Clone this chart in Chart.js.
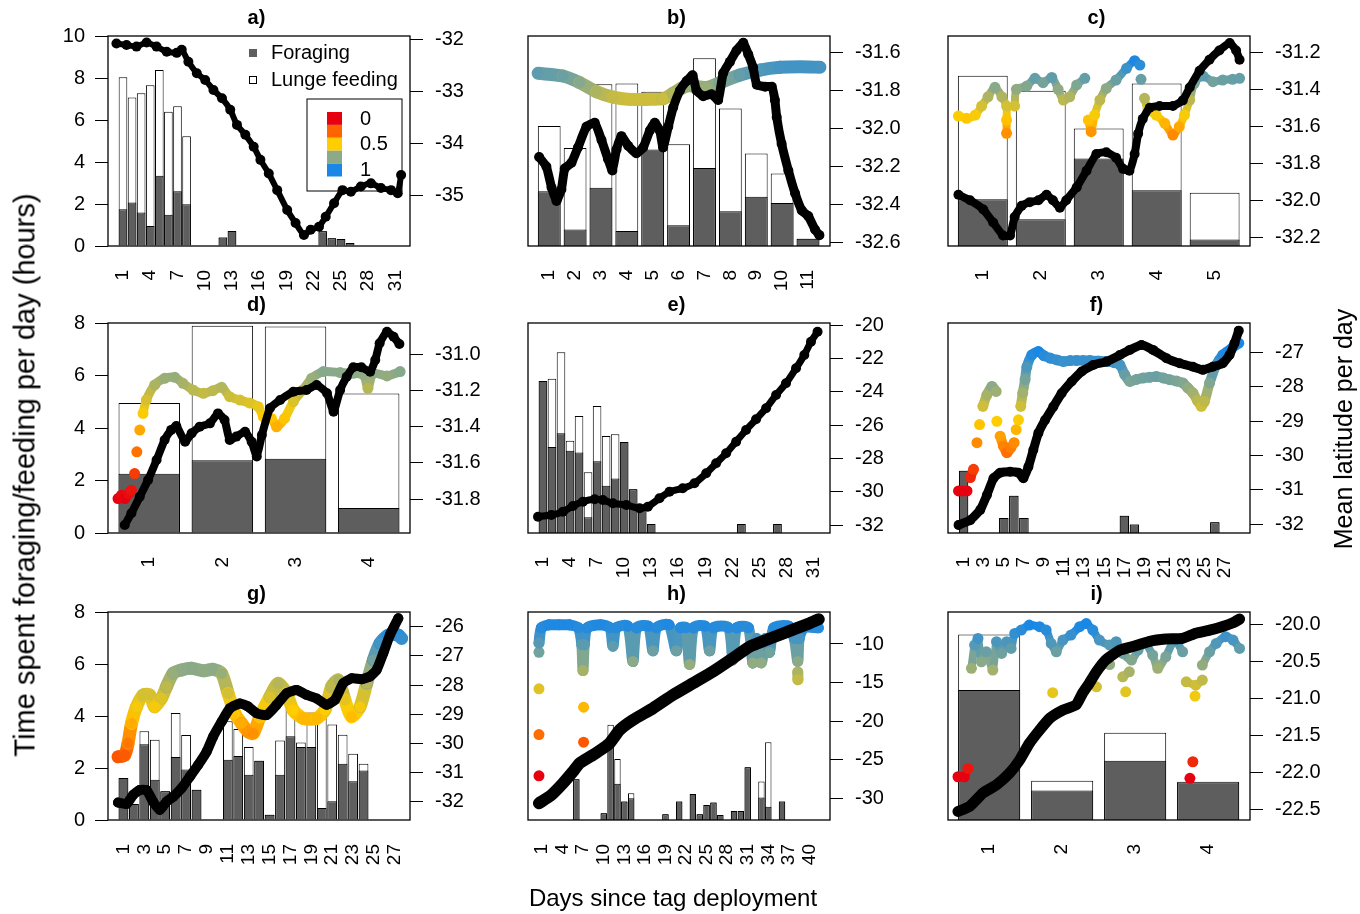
<!DOCTYPE html>
<html>
<head>
<meta charset="utf-8">
<script src="https://cdn.jsdelivr.net/npm/chart.js@4.4.1/dist/chart.umd.min.js"></script>
<style>
  body { margin: 0; background: #fff; }
  #wrap { position: relative; width: 1360px; height: 914px; overflow: hidden; font-family: "Liberation Sans", Arial, sans-serif; }
  #wrap canvas { position: absolute; }
  .axt { position: absolute; font-size: 24px; color: #000; white-space: nowrap; transform: translate(-50%, -50%); }
  .rot { transform: translate(-50%, -50%) rotate(-90deg); }
</style>
</head>
<body>
<div id="wrap">
  <canvas id="pa"></canvas><canvas id="pb"></canvas><canvas id="pc"></canvas>
  <canvas id="pd"></canvas><canvas id="pe"></canvas><canvas id="pf"></canvas>
  <canvas id="pg"></canvas><canvas id="ph"></canvas><canvas id="pi"></canvas>
  <div class="axt rot" style="left:25px; top:475px; font-size:29px">Time spent foraging/feeding per day (hours)</div>
  <div class="axt rot" style="left:1343px; top:429px; font-size:25px">Mean latitude per day</div>
  <div class="axt" style="left:673px; top:898px">Days since tag deployment</div>
</div>
<script>
// ---- hours per day (index = day - 1)
const forageA = [1.75, 2.07, 1.59, 0.95, 3.34, 1.49, 2.61, 1.99, 0, 0, 0, 0.41, 0.72, 0, 0, 0, 0, 0, 0, 0, 0, 0, 0.70, 0.37, 0.33, 0.14, 0, 0, 0, 0, 0];
const lungeA  = [8.03, 7.07, 7.27, 7.65, 8.38, 6.39, 6.66, 5.23, 0, 0, 0, 0.41, 0.72, 0, 0, 0, 0, 0, 0, 0, 0, 0, 0.70, 0.37, 0.33, 0.14, 0, 0, 0, 0, 0];
const forageB = [2.61, 0.78, 2.77, 0.72, 4.60, 0.99, 3.72, 1.65, 2.34, 2.05, 0.35];
const lungeB  = [5.71, 4.67, 7.70, 7.74, 7.34, 4.85, 8.94, 6.55, 4.40, 3.45, 0.35];
const forageC = [2.23, 1.27, 4.17, 2.66, 0.31];
const lungeC  = [8.11, 7.39, 5.60, 7.74, 2.53];
const forageD = [2.26, 2.77, 2.83, 0.95];
const lungeD  = [4.95, 7.90, 7.87, 5.31];
const forageE = [5.79, 3.28, 3.80, 3.13, 3.07, 0.60, 2.73, 1.80, 2.08, 3.47, 1.67, 1.04, 0.34, 0, 0, 0, 0, 0, 0, 0, 0, 0, 0.34, 0, 0, 0, 0.34, 0, 0, 0, 0];
const lungeE  = [5.79, 5.88, 6.89, 3.51, 4.46, 2.31, 4.84, 3.70, 3.76, 3.47, 1.67, 1.04, 0.34, 0, 0, 0, 0, 0, 0, 0, 0, 0, 0.34, 0, 0, 0, 0.34, 0, 0, 0, 0];
const forageF = [2.37, 0, 0, 0, 0.57, 1.42, 0.57, 0, 0, 0, 0, 0, 0, 0, 0, 0, 0.66, 0.32, 0, 0, 0, 0, 0, 0, 0, 0.41, 0, 0];
const lungeF  = [2.37, 0, 0, 0, 0.57, 1.42, 0.57, 0, 0, 0, 0, 0, 0, 0, 0, 0, 0.66, 0.32, 0, 0, 0, 0, 0, 0, 0, 0.41, 0, 0];
const forageG = [1.62, 0.62, 2.91, 1.55, 1.11, 2.42, 1.94, 1.16, 0, 0, 2.32, 2.46, 1.74, 2.28, 0.20, 1.74, 3.22, 2.81, 2.81, 0.46, 0.72, 2.16, 1.49, 1.90, 0, 0, 0];
const lungeG  = [1.62, 0.62, 3.41, 3.09, 1.11, 4.12, 3.27, 1.16, 0, 0, 3.80, 3.50, 2.81, 2.28, 0.20, 3.06, 4.29, 2.98, 4.13, 4.20, 3.67, 3.28, 2.55, 2.16, 0, 0, 0];
const forageH = [0, 0, 0, 0, 0, 1.57, 0, 0, 0, 0.26, 2.95, 1.39, 0.71, 0.84, 0, 0, 0, 0, 0.22, 0, 0.71, 0, 1.00, 0.22, 0.58, 0.67, 0.19, 0, 0.35, 0.35, 2.03, 0, 0.87, 0.51, 0, 0.71, 0, 0, 0, 0, 0];
const lungeH  = [0, 0, 0, 0, 0, 1.57, 0, 0, 0, 0.26, 3.66, 2.35, 0.71, 1.03, 0, 0, 0, 0, 0.22, 0, 0.71, 0, 1.00, 0.22, 0.58, 0.67, 0.19, 0, 0.35, 0.35, 2.03, 0, 1.48, 2.99, 0, 0.71, 0, 0, 0, 0, 0];
const forageI = [5.00, 1.13, 2.28, 1.44];
const lungeI  = [7.13, 1.51, 3.36, 1.47];

// ---- mean latitude track [day, latitude]
const latA = [[0.28,-32.08],[1.39,-32.11],[2.49,-32.14],[3.6,-32.06],[4.7,-32.14],[5.81,-32.24],[6.92,-32.26],[7.47,-32.2],[8.2,-32.43],[9.13,-32.65],[10.05,-32.78],[10.96,-32.97],[11.9,-33.13],[12.81,-33.35],[13.55,-33.64],[14.47,-33.83],[15.39,-34.06],[16.13,-34.31],[17.05,-34.57],[17.98,-34.89],[19.08,-35.27],[20.0,-35.52],[20.92,-35.75],[21.66,-35.65],[22.58,-35.59],[23.32,-35.40],[24.24,-35.14],[25.17,-34.89],[26.09,-34.92],[27.19,-34.82],[28.3,-34.76],[29.4,-34.85],[30.51,-34.89],[31.25,-34.95],[31.62,-34.6]];
const latB = [[0.61,-32.15],[0.89,-32.2],[1.09,-32.31],[1.28,-32.38],[1.47,-32.32],[1.6,-32.21],[1.86,-32.18],[2.11,-32.1],[2.44,-31.99],[2.76,-31.97],[3.02,-32.06],[3.27,-32.16],[3.44,-32.22],[3.6,-32.11],[3.79,-32.04],[4.05,-32.09],[4.37,-32.13],[4.63,-32.1],[4.89,-32.01],[5.08,-31.97],[5.27,-32.01],[5.4,-32.1],[5.6,-31.99],[5.79,-31.89],[6.05,-31.8],[6.31,-31.75],[6.54,-31.72],[6.69,-31.8],[6.95,-31.83],[7.27,-31.82],[7.53,-31.85],[7.72,-31.71],[7.98,-31.65],[8.24,-31.59],[8.5,-31.55],[8.69,-31.61],[8.88,-31.68],[9.02,-31.77],[9.34,-31.78],[9.6,-31.78],[9.72,-31.85],[9.79,-31.94],[9.98,-32.08],[10.24,-32.22],[10.5,-32.34],[10.76,-32.43],[11.01,-32.46],[11.27,-32.53],[11.44,-32.56]];
const latC = [[0.58,-31.97],[0.78,-32.0],[1.01,-32.05],[1.18,-32.12],[1.35,-32.19],[1.47,-32.19],[1.55,-32.09],[1.67,-32.03],[1.81,-32.01],[1.96,-32.0],[2.1,-31.97],[2.21,-32.0],[2.33,-32.04],[2.44,-32.0],[2.62,-31.93],[2.79,-31.84],[2.96,-31.75],[3.13,-31.74],[3.3,-31.77],[3.42,-31.83],[3.53,-31.84],[3.62,-31.75],[3.68,-31.64],[3.76,-31.56],[3.88,-31.5],[4.05,-31.49],[4.28,-31.49],[4.45,-31.46],[4.57,-31.39],[4.74,-31.3],[4.91,-31.24],[5.08,-31.19],[5.26,-31.15],[5.37,-31.19],[5.43,-31.24]];
const latD = [[0.665,-31.942],[0.756,-31.877],[0.87,-31.786],[0.984,-31.694],[1.1,-31.584],[1.21,-31.474],[1.3,-31.418],[1.37,-31.396],[1.49,-31.483],[1.58,-31.437],[1.69,-31.4],[1.83,-31.382],[1.94,-31.327],[2.03,-31.363],[2.1,-31.474],[2.19,-31.455],[2.31,-31.428],[2.4,-31.483],[2.47,-31.565],[2.54,-31.446],[2.65,-31.299],[2.79,-31.253],[2.97,-31.208],[3.15,-31.198],[3.29,-31.171],[3.43,-31.216],[3.52,-31.318],[3.61,-31.198],[3.7,-31.125],[3.79,-31.073],[3.9,-31.073],[4.02,-31.097],[4.09,-31.033],[4.15,-30.941],[4.25,-30.877],[4.34,-30.905],[4.42,-30.945]];
const latE = [[0.45,-31.5],[1.93,-31.4],[3.21,-31.2],[4.32,-30.86],[5.43,-30.6],[6.73,-30.46],[7.64,-30.5],[8.75,-30.7],[10.24,-30.8],[11.71,-31.0],[12.63,-30.9],[13.92,-30.4],[15.03,-30.0],[16.5,-29.8],[17.8,-29.5],[19.1,-28.9],[20.2,-28.3],[21.31,-27.7],[22.42,-27.0],[23.52,-26.3],[24.63,-25.66],[25.74,-25.0],[26.85,-24.2],[27.95,-23.5],[29.06,-22.6],[29.98,-21.8],[30.72,-21.0],[31.45,-20.4]];
const latF = [[0.5,-32.02],[1.66,-31.88],[2.66,-31.58],[3.32,-31.15],[3.98,-30.66],[4.64,-30.5],[5.63,-30.47],[6.46,-30.5],[6.95,-30.66],[7.45,-30.33],[7.94,-29.84],[8.44,-29.35],[9.11,-28.97],[9.93,-28.58],[10.76,-28.19],[11.75,-27.85],[12.75,-27.56],[13.9,-27.37],[15.23,-27.27],[16.55,-27.08],[17.54,-26.93],[18.7,-26.79],[19.85,-26.93],[21.18,-27.17],[22.5,-27.32],[23.82,-27.42],[24.81,-27.51],[25.8,-27.42],[26.79,-27.32],[27.46,-27.08],[27.95,-26.74],[28.38,-26.37]];
const latG = [[0.48,-32.03],[1.29,-32.08],[1.92,-31.77],[2.56,-31.6],[3.21,-31.6],[3.84,-32.0],[4.48,-32.28],[5.12,-32.0],[5.76,-31.83],[6.56,-31.54],[7.36,-31.14],[8.15,-30.74],[8.96,-30.29],[9.59,-29.77],[10.4,-29.26],[11.19,-28.8],[12.15,-28.63],[12.95,-28.74],[13.75,-28.97],[14.71,-29.03],[15.67,-28.68],[16.63,-28.28],[17.59,-28.17],[18.55,-28.34],[19.5,-28.46],[20.46,-28.68],[21.26,-28.51],[22.05,-27.94],[22.86,-27.77],[23.82,-27.8],[24.61,-27.71],[25.26,-27.48],[25.89,-26.91],[26.53,-26.28],[27.33,-25.71]];
const latH = [[0.55,-30.63],[2.36,-29.56],[4.05,-28.04],[5.5,-26.54],[6.48,-25.45],[8.42,-24.38],[10.85,-22.86],[12.31,-21.14],[14.25,-19.84],[17.17,-18.33],[20.08,-16.61],[23.0,-15.09],[25.91,-13.58],[28.83,-11.85],[31.26,-10.35],[33.7,-9.48],[35.64,-8.83],[38.07,-7.97],[40.0,-7.32],[41.36,-6.8]];
const latI = [[0.573,-22.53],[0.733,-22.46],[0.915,-22.28],[1.1,-22.17],[1.28,-22.01],[1.42,-21.83],[1.55,-21.61],[1.69,-21.43],[1.83,-21.27],[2.01,-21.16],[2.19,-21.09],[2.28,-20.93],[2.37,-20.8],[2.47,-20.64],[2.6,-20.48],[2.79,-20.35],[2.97,-20.3],[3.2,-20.23],[3.42,-20.2],[3.65,-20.19],[3.83,-20.12],[4.02,-20.08],[4.2,-20.03],[4.34,-19.98],[4.43,-19.93]];

// ---- 0..1 index (colour scale), [day, value]; a null value breaks the trail
const idxB = [[0.57,0.85],[1.53,0.825],[2.18,0.764],[2.83,0.68],[3.47,0.63],[4.11,0.61],[4.76,0.61],[5.4,0.616],[5.79,0.666],[6.31,0.733],[7.08,0.72],[7.6,0.764],[8.37,0.834],[9.14,0.88],[9.92,0.905],[10.69,0.91],[11.46,0.905]];
const idxC = [[0.58,0.506],[0.72,0.486],[0.87,0.515],[0.98,0.594],[1.09,0.676],[1.21,0.759],[1.33,0.676],[1.41,0.594],[1.41,0.471],[1.41,0.354],[1.45,null],[1.55,0.594],[1.58,0.742],[1.76,0.771],[1.9,0.839],[2.04,0.8],[2.19,0.847],[2.3,0.742],[2.39,0.647],[2.5,0.676],[2.62,0.78],[2.76,0.839],[2.79,null],[2.82,0.471],[2.87,0.368],[2.93,0.515],[3.02,0.647],[3.13,0.75],[3.3,0.824],[3.48,0.927],[3.62,0.994],[3.71,0.956],[3.72,null],[3.73,0.83],[3.76,null],[3.79,0.662],[3.85,0.559],[3.99,0.515],[4.14,0.442],[4.28,0.339],[4.39,0.412],[4.48,0.515],[4.57,0.647],[4.65,0.795],[4.8,0.859],[4.97,0.809],[5.14,0.824],[5.31,0.83],[5.43,0.839]];
const idxD = [[0.573,0.0],[0.62,0.02],[0.665,0.0],[0.72,0.03],[0.756,0.05],[0.78,null],[0.8,0.15],[0.81,null],[0.83,0.28],[0.85,null],[0.87,0.41],[0.89,null],[0.915,0.51],[0.96,0.59],[1.075,0.68],[1.21,0.72],[1.35,0.726],[1.46,0.69],[1.6,0.65],[1.74,0.63],[1.87,0.646],[1.99,0.666],[2.1,0.61],[2.24,0.59],[2.375,0.572],[2.49,0.55],[2.56,0.49],[2.67,0.48],[2.74,0.43],[2.85,0.48],[2.97,0.58],[3.1,0.65],[3.22,0.72],[3.38,0.76],[3.61,0.754],[3.79,0.75],[3.93,0.74],[3.99,0.66],[4.06,0.75],[4.25,0.734],[4.43,0.76]];
const idxF = [[0.5,0.0],[0.9,0.0],[1.34,0.0],[1.45,null],[1.66,0.096],[1.99,0.155],[2.1,null],[2.33,0.346],[2.4,null],[2.59,0.476],[2.7,null],[2.92,0.607],[3.32,0.69],[3.82,0.75],[4.24,0.714],[4.27,null],[4.31,0.5],[4.4,null],[4.64,0.393],[4.97,0.321],[5.31,0.274],[5.7,0.31],[6.03,0.346],[6.1,null],[6.23,0.44],[6.3,null],[6.46,0.51],[6.6,null],[6.69,0.607],[6.89,0.703],[7.12,0.8],[7.29,0.889],[7.79,0.976],[8.44,1.0],[9.0,0.97],[9.6,0.953],[10.3,0.94],[10.92,0.929],[11.6,0.935],[12.25,0.936],[12.9,0.936],[13.57,0.936],[14.4,0.933],[15.23,0.929],[16.0,0.92],[16.55,0.905],[17.04,0.834],[17.54,0.786],[18.2,0.8],[18.86,0.81],[19.5,0.815],[20.19,0.821],[20.9,0.81],[21.51,0.798],[22.2,0.788],[22.83,0.774],[23.3,0.74],[23.82,0.703],[24.25,0.65],[24.65,0.607],[24.98,0.643],[25.48,0.774],[26.14,0.905],[26.79,0.976],[27.63,1.02],[28.38,1.06]];
const idxG = [[0.48,0.213],[1.12,0.224],[1.44,0.296],[1.77,0.418],[2.25,0.52],[2.88,0.592],[3.52,0.592],[4.0,0.52],[4.64,0.572],[5.12,0.643],[5.76,0.725],[6.56,0.746],[7.52,0.756],[8.63,0.741],[9.59,0.75],[10.4,0.725],[11.03,0.602],[11.67,0.48],[12.31,0.418],[12.95,0.367],[13.43,0.357],[14.07,0.459],[15.03,0.582],[15.82,0.664],[16.63,0.602],[17.26,0.5],[18.22,0.449],[19.5,0.449],[20.3,0.5],[20.94,0.643],[21.58,0.684],[22.22,0.561],[22.86,0.459],[23.66,0.52],[24.3,0.664],[24.94,0.807],[25.58,0.909],[26.37,0.96],[27.33,0.96],[27.65,0.94]];
const idxH = [[0.55,0.0],[0.6,null],[0.55,0.27],[0.6,null],[0.55,0.57],[0.6,null],[0.55,0.81],[0.6,null],[0.55,0.87],[0.9,0.97],[2.0,0.99],[3.5,0.99],[5.0,0.99],[6.3,0.97],[6.8,0.86],[6.97,0.69],[7.15,0.86],[7.6,0.97],[9.5,0.99],[10.9,0.97],[11.34,0.85],[11.8,0.97],[13.5,0.98],[14.25,0.75],[14.8,0.97],[16.5,0.98],[17.17,0.82],[17.7,0.97],[19.5,0.99],[20.57,0.82],[21.2,0.97],[22.0,0.97],[22.52,0.73],[23.1,0.97],[24.8,0.98],[25.43,0.82],[26.0,0.97],[28.2,0.97],[28.83,0.76],[29.4,0.97],[31.1,0.97],[31.74,0.74],[32.3,0.9],[32.97,0.74],[33.6,0.9],[34.18,0.81],[34.8,0.97],[37.0,0.98],[37.8,0.9],[38.3,0.75],[38.5,0.9],[39.2,0.97],[41.3,0.97],[41.35,null],[7.06,0.45],[7.1,null],[7.06,0.22],[7.1,null],[38.3,0.68],[38.32,0.63]];
const idxI = [[0.573,0.0],[0.66,0.0],[0.71,0.055],[0.73,null],[0.757,0.715],[0.8,0.868],[0.847,0.912],[0.893,0.758],[0.96,0.824],[1.05,0.703],[1.1,0.89],[1.17,0.813],[1.24,0.89],[1.3,0.846],[1.35,0.945],[1.44,0.967],[1.55,1.0],[1.69,0.989],[1.78,0.967],[1.85,0.879],[1.92,0.824],[2.01,0.901],[2.12,0.934],[2.24,0.989],[2.33,1.01],[2.42,0.967],[2.51,0.901],[2.65,0.868],[2.74,0.89],[2.83,0.813],[2.95,0.769],[3.04,0.835],[3.13,0.879],[3.24,0.802],[3.31,0.715],[3.42,0.791],[3.54,0.901],[3.65,0.824],[3.7,null],[3.92,0.736],[4.02,0.824],[4.11,0.879],[4.24,0.923],[4.34,0.901],[4.43,0.846],[4.45,null],[1.87,0.554],[1.9,null],[2.47,0.593],[2.5,null],[2.55,0.74],[2.65,0.74],[2.7,null],[2.83,0.659],[2.92,0.692],[2.95,null],[2.87,0.56],[2.9,null],[3.7,0.626],[3.83,0.604],[3.92,0.637],[3.95,null],[3.82,0.532],[3.85,null],[3.79,0.099],[3.8,null],[3.75,-0.01]];

// ---- tick labels
const hourTicks = [0, 2, 4, 6, 8, 10];
const days31 = [1, 4, 7, 10, 13, 16, 19, 22, 25, 28, 31];
const days27 = [1, 3, 5, 7, 9, 11, 13, 15, 17, 19, 21, 23, 25, 27];
const days40 = [1, 4, 7, 10, 13, 16, 19, 22, 25, 28, 31, 34, 37, 40];
const days11 = [1, 2, 3, 4, 5, 6, 7, 8, 9, 10, 11];
const days5 = [1, 2, 3, 4, 5];
const days4 = [1, 2, 3, 4];
const latTicksA = [-32, -33, -34, -35];
const latTicksB = [-31.6, -31.8, -32.0, -32.2, -32.4, -32.6];
const latTicksC = [-31.2, -31.4, -31.6, -31.8, -32.0, -32.2];
const latTicksD = [-31.0, -31.2, -31.4, -31.6, -31.8];
const latTicksE = [-20, -22, -24, -26, -28, -30, -32];
const latTicksF = [-27, -28, -29, -30, -31, -32];
const latTicksG = [-26, -27, -28, -29, -30, -31, -32];
const latTicksH = [-10, -15, -20, -25, -30];
const latTicksI = [-20.0, -20.5, -21.0, -21.5, -22.0, -22.5];
const keyLabels = ['0', '0.5', '1'];

const FONT = '"Liberation Sans", Arial, sans-serif';
Chart.defaults.font.family = FONT;
Chart.defaults.color = '#000';

const idxStops = [[0, [230, 0, 16]], [0.25, [255, 100, 0]], [0.5, [255, 205, 0]], [0.75, [140, 170, 135]], [1, [25, 135, 230]]];
function idxColor(v) {
  v = Math.max(0, Math.min(1, v || 0));
  for (let i = 1; i < idxStops.length; i++) {
    const [v1, c1] = idxStops[i];
    if (v <= v1) {
      const [v0, c0] = idxStops[i - 1];
      const t = (v - v0) / (v1 - v0);
      return 'rgb(' + c0.map((c, k) => Math.round(c + t * (c1[k] - c))).join(',') + ')';
    }
  }
  return 'rgb(25,135,230)';
}

const colLeft = [108, 528, 948], rowTop = [36, 323, 612], rowH = [210, 210, 208];
const PLOT_W = 302, LEFT_W = 80, RIGHT_W = 75, TITLE_H = 36, BOTTOM_H = 55;

// frame round the plot region
const framePlugin = {
  id: 'frame',
  afterDatasetsDraw(chart) {
    const { ctx, chartArea: a } = chart;
    ctx.save();
    ctx.strokeStyle = '#000';
    ctx.lineWidth = 1.3;
    ctx.strokeRect(a.left, a.top, a.right - a.left, a.bottom - a.top);
    ctx.restore();
  }
};

// legend of panel a: bar keys + colour key
const keyPlugin = {
  id: 'keys',
  beforeDatasetsDraw(chart, args, opts) {
    if (!opts.show) return;
    const { ctx, chartArea: a } = chart;
    const ds = chart.data.datasets;
    ctx.save();
    ctx.font = '20px ' + FONT;
    ctx.textBaseline = 'middle';
    ctx.lineWidth = 1;
    ctx.strokeStyle = '#000';
    [[ds[0], 17], [ds[1], 44]].forEach(([d, dy]) => {
      ctx.fillStyle = d.backgroundColor;
      ctx.fillRect(a.left + 141, a.top + dy - 4, 8, 8);
      if (d.backgroundColor === '#fff') ctx.strokeRect(a.left + 141.5, a.top + dy - 3.5, 7, 7);
      ctx.fillStyle = '#000';
      ctx.fillText(d.label, a.left + 163, a.top + dy);
    });
    const bx = a.left + 199, by = a.top + 63;
    ctx.fillStyle = '#fff';
    ctx.fillRect(bx, by, 95, 92);
    ctx.strokeRect(bx, by, 95, 92);
    [0, 0.25, 0.5, 0.75, 1].forEach((v, i) => {
      ctx.fillStyle = idxColor(v);
      ctx.fillRect(bx + 20, by + 13 + i * 12.9, 15, 12.9);
    });
    ctx.fillStyle = '#000';
    ctx.font = '20px ' + FONT;
    keyLabels.forEach((t, i) => ctx.fillText(t, bx + 53, by + 20 + i * 25.8));
    ctx.restore();
  }
};

function makePanel(p) {
  const cv = document.getElementById(p.id);
  cv.width = LEFT_W + PLOT_W + RIGHT_W;
  cv.height = TITLE_H + rowH[p.row] + BOTTOM_H;
  cv.style.left = (colLeft[p.col] - LEFT_W) + 'px';
  cv.style.top = (rowTop[p.row] - TITLE_H) + 'px';
  const leftAxis = p.col === 0;
  const pts = arr => arr.map(q => ({ x: q[0], y: q[1] }));
  const bars = (vals) => vals.map((v, i) => ({ x: i + 1, y: v }));
  const datasets = [
    { type: 'bar', label: 'Foraging', data: bars(p.forage), backgroundColor: '#5e5e5e', borderColor: '#000', borderWidth: 1,
      grouped: false, barPercentage: p.barPct, categoryPercentage: 1, order: 2, yAxisID: 'y' },
    { type: 'bar', label: 'Lunge feeding', data: bars(p.lunge), backgroundColor: '#fff', borderColor: '#000', borderWidth: 1,
      grouped: false, barPercentage: p.barPct, categoryPercentage: 1, order: 3, yAxisID: 'y' },
    { type: 'line', label: 'Latitude', data: pts(p.lat), yAxisID: 'yR', borderColor: '#000', borderWidth: p.latW,
      borderCapStyle: 'round', borderJoinStyle: 'round', tension: 0.15,
      pointRadius: 5, pointBorderWidth: 0, pointBackgroundColor: '#000', order: 0 }
  ];
  if (p.idx) {
    datasets.push({ type: 'line', label: 'Index', data: pts(p.idx), yAxisID: 'yI', showLine: p.band,
      borderWidth: p.bandW, borderColor: '#8caa87', borderCapStyle: 'round', borderJoinStyle: 'round', tension: 0.25,
      segment: { borderColor: c => idxColor((c.p0.parsed.y + c.p1.parsed.y) / 2) },
      pointRadius: 5.5, pointBorderWidth: 0,
      pointBackgroundColor: c => idxColor(c.raw ? c.raw.y : 0), order: 1 });
  }
  new Chart(cv, {
    type: 'bar',
    data: { datasets },
    options: {
      responsive: false,
      animation: false,
      devicePixelRatio: 1,
      layout: { padding: 0 },
      plugins: {
        legend: { display: false },
        tooltip: { enabled: false },
        title: { display: true, text: p.title, color: '#000', font: { size: 20, weight: 'bold' }, padding: { top: 6, bottom: 6 } },
        keys: { show: !!p.legend }
      },
      scales: {
        x: {
          type: 'linear', min: p.xMin, max: p.xMax, offset: false,
          afterBuildTicks: s => { s.ticks = p.dayTicks.map(v => ({ value: v })); },
          afterFit: s => { s.height = BOTTOM_H; },
          grid: { display: false }, border: { display: false },
          ticks: { autoSkip: false, minRotation: 90, maxRotation: 90, padding: 16, font: { size: 19 }, callback: v => String(v) }
        },
        y: {
          type: 'linear', position: 'left', min: 0, max: p.yMax,
          afterBuildTicks: s => { s.ticks = hourTicks.filter(v => v <= p.yMax).map(v => ({ value: v })); },
          afterFit: s => { s.width = LEFT_W; },
          grid: { display: leftAxis, drawOnChartArea: false, tickLength: 13, color: '#000' },
          border: { display: false },
          ticks: { display: leftAxis, padding: 10, font: { size: 20 } }
        },
        yR: {
          type: 'linear', position: 'right', min: p.latMin, max: p.latMax,
          afterBuildTicks: s => { s.ticks = p.latTicks.map(v => ({ value: v })); },
          afterFit: s => { s.width = RIGHT_W; },
          grid: { drawOnChartArea: false, tickLength: 13, color: '#000' },
          border: { display: false },
          ticks: { padding: 12, font: { size: 20 }, callback: v => v.toFixed(p.latDec) }
        },
        yI: { type: 'linear', display: false, min: p.idxMin, max: p.idxMax }
      }
    },
    plugins: [framePlugin, keyPlugin]
  });
}

const panels = [
  { id: 'pa', title: 'a)', row: 0, col: 0, forage: forageA, lunge: lungeA, lat: latA, idx: null, legend: true,
    xMin: -0.65, xMax: 32.6, yMax: 10, latMin: -35.96, latMax: -31.937, latTicks: latTicksA, latDec: 0, dayTicks: days31, barPct: 0.95, latW: 6 },
  { id: 'pb', title: 'b)', row: 0, col: 1, forage: forageB, lunge: lungeB, lat: latB, idx: idxB, band: true, bandW: 13,
    xMin: 0.18, xMax: 11.85, yMax: 10, latMin: -32.617, latMax: -31.514, latTicks: latTicksB, latDec: 1, dayTicks: days11, barPct: 0.88, latW: 9,
    idxMin: -0.739, idxMax: 1.193 },
  { id: 'pc', title: 'c)', row: 0, col: 2, forage: forageC, lunge: lungeC, lat: latC, idx: idxC, band: true, bandW: 8,
    xMin: 0.40, xMax: 5.61, yMax: 10, latMin: -32.247, latMax: -31.112, latTicks: latTicksC, latDec: 1, dayTicks: days5, barPct: 0.86, latW: 8,
    idxMin: -0.640, idxMax: 1.212 },
  { id: 'pd', title: 'd)', row: 1, col: 0, forage: forageD, lunge: lungeD, lat: latD, idx: idxD, band: true, bandW: 9,
    xMin: 0.436, xMax: 4.565, yMax: 8, latMin: -31.986, latMax: -30.829, latTicks: latTicksD, latDec: 1, dayTicks: days4, barPct: 0.84, latW: 8,
    idxMin: -0.206, idxMax: 1.051 },
  { id: 'pe', title: 'e)', row: 1, col: 1, forage: forageE, lunge: lungeE, lat: latE, idx: null,
    xMin: -0.66, xMax: 32.83, yMax: 8, latMin: -32.48, latMax: -19.88, latTicks: latTicksE, latDec: 0, dayTicks: days31, barPct: 0.95, latW: 7 },
  { id: 'pf', title: 'f)', row: 1, col: 2, forage: forageF, lunge: lungeF, lat: latF, idx: idxF, band: true, bandW: 10,
    xMin: -0.55, xMax: 29.5, yMax: 8, latMin: -32.253, latMax: -26.148, latTicks: latTicksF, latDec: 0, dayTicks: days27, barPct: 0.93, latW: 9,
    idxMin: -0.302, idxMax: 1.205 },
  { id: 'pg', title: 'g)', row: 2, col: 0, forage: forageG, lunge: lungeG, lat: latG, idx: idxG, band: true, bandW: 13,
    xMin: -0.48, xMax: 28.45, yMax: 8, latMin: -32.627, latMax: -25.496, latTicks: latTicksG, latDec: 0, dayTicks: days27, barPct: 0.93, latW: 10,
    idxMin: -0.175, idxMax: 1.102 },
  { id: 'ph', title: 'h)', row: 2, col: 1, forage: forageH, lunge: lungeH, lat: latH, idx: idxH, band: true, bandW: 11,
    xMin: -1.05, xMax: 43.0, yMax: 8, latMin: -32.80, latMax: -5.855, latTicks: latTicksH, latDec: 0, dayTicks: days40, barPct: 0.93, latW: 12,
    idxMin: -0.29, idxMax: 1.074 },
  { id: 'pi', title: 'i)', row: 2, col: 2, forage: forageI, lunge: lungeI, lat: latI, idx: idxI, band: true, bandW: 8,
    xMin: 0.436, xMax: 4.573, yMax: 8, latMin: -22.645, latMax: -19.834, latTicks: latTicksI, latDec: 1, dayTicks: days4, barPct: 0.85, latW: 11,
    idxMin: -0.285, idxMax: 1.086 }
];
panels.forEach(makePanel);
</script>
</body>
</html>
